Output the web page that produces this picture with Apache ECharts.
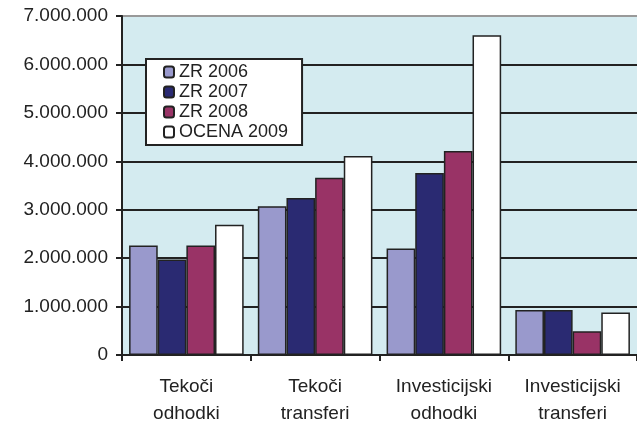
<!DOCTYPE html>
<html><head><meta charset="utf-8">
<script src="https://cdn.jsdelivr.net/npm/echarts@6/dist/echarts.min.js"></script>
<style>html,body{margin:0;padding:0;background:#fff}#c{width:637px;height:427px}</style>
</head><body><div id="c"></div>
<script>
var categories = ['Tekoči\nodhodki', 'Tekoči\ntransferi', 'Investicijski\nodhodki', 'Investicijski\ntransferi'];
var seriesNames = ['ZR 2006', 'ZR 2007', 'ZR 2008', 'OCENA 2009'];
var zr2006 = [2260000, 3070000, 2200000, 930000];
var zr2007 = [1970000, 3240000, 3760000, 930000];
var zr2008 = [2260000, 3660000, 4210000, 490000];
var ocena2009 = [2690000, 4110000, 6600000, 880000];
var yTicks = [0, 1000000, 2000000, 3000000, 4000000, 5000000, 6000000, 7000000];
var colors = ['#9999cc', '#2a2a72', '#993366', '#ffffff'];

var font = 'Liberation Sans, Arial, sans-serif';
function fmt(v) {
  if (v === 0) return '0';
  return String(v).replace(/\B(?=(\d{3})+(?!\d))/g, '.');
}
var data = [zr2006, zr2007, zr2008, ocena2009];
var chart = echarts.init(document.getElementById('c'), null, {renderer: 'canvas'});
chart.setOption({
  animation: false,
  backgroundColor: '#ffffff',
  grid: {left: 122, top: 16, width: 524, height: 343, show: true, backgroundColor: '#d4ebf0', borderWidth: 0},
  legend: {
    orient: 'vertical', left: 146, top: 59,
    padding: [4, 14, 4, 17],
    backgroundColor: '#ffffff', borderColor: '#222', borderWidth: 2,
    itemWidth: 10, itemHeight: 11, itemGap: 2,
    textStyle: {fontFamily: font, fontSize: 18, color: '#222', lineHeight: 18},
    data: seriesNames
  },
  xAxis: {
    type: 'category', data: categories,
    axisLine: {show: true, lineStyle: {color: '#222', width: 2}},
    axisTick: {show: true, length: 6, lineStyle: {color: '#222', width: 2}},
    axisLabel: {fontFamily: font, fontSize: 19, color: '#222', lineHeight: 27, margin: 18, interval: 0}
  },
  yAxis: {
    type: 'value', min: yTicks[0], max: yTicks[yTicks.length - 1], interval: 1000000,
    axisLine: {show: true, lineStyle: {color: '#222', width: 2}},
    axisTick: {show: true, length: 6, lineStyle: {color: '#222', width: 2}},
    axisLabel: {fontFamily: font, fontSize: 19, color: '#222', margin: 14, formatter: fmt},
    splitLine: {show: true, lineStyle: {color: ['#222', '#222', '#222', '#222', '#222', '#222', '#222', '#999'], width: 2}}
  },
  series: seriesNames.map(function (n, i) {
    return {
      name: n, type: 'bar', data: data[i],
      barGap: '0%', barCategoryGap: '11%',
      itemStyle: {color: colors[i], borderColor: '#222', borderWidth: 1.5}
    };
  })
});
</script></body></html>
